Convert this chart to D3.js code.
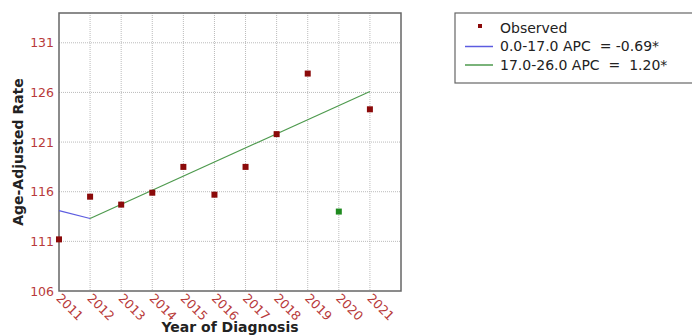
<!DOCTYPE html>
<html>
<head>
<meta charset="utf-8">
<script src="https://cdn.jsdelivr.net/npm/d3@7"></script>
<style>
  body { margin: 0; background: #fff; }
  svg { display: block; font-family: "DejaVu Sans", Verdana, sans-serif; }
</style>
</head>
<body>
<script>
// observed rates
let years = [2011, 2012, 2013, 2014, 2015, 2016, 2017, 2018, 2019, 2020, 2021];
let observed = [111.2, 115.5, 114.7, 115.9, 118.5, 115.7, 118.5, 121.8, 127.9, 114.0, 124.3];
let excluded = [2020];   // shown in green

// joinpoint segments (end points only)
let seg1Years = [2011, 2012];
let seg1Fit = [114.1, 113.3];
let seg2Years = [2012, 2021];
let seg2Fit = [113.3, 126.1];

let yTicks = [106, 111, 116, 121, 126, 131];
let legendLabels = ["Observed", "0.0-17.0 APC  = -0.69*", "17.0-26.0 APC  =  1.20*"];

let W = 692, H = 335;
let margin = {top: 13, right: 291, bottom: 44, left: 59},
    width = W - margin.left - margin.right,
    height = H - margin.top - margin.bottom;

let red = "#b83a3a";

let svg = d3.select("body").append("svg")
    .attr("width", W)
    .attr("height", H);

let g = svg.append("g")
    .attr("transform", `translate(${margin.left}, ${margin.top})`);

let x = d3.scaleLinear().domain([2011, 2022]).range([0, width]);
let y = d3.scaleLinear().domain([106, 134]).range([height, 0]);

// grid
g.append("g")
    .selectAll("line")
    .data(years.slice(1))
    .enter().append("line")
    .attr("x1", d => x(d)).attr("x2", d => x(d))
    .attr("y1", 0).attr("y2", height)
    .attr("stroke", "#bbb")
    .attr("stroke-dasharray", "1,1");

g.append("g")
    .selectAll("line")
    .data(yTicks.slice(1))
    .enter().append("line")
    .attr("x1", 0).attr("x2", width)
    .attr("y1", d => y(d)).attr("y2", d => y(d))
    .attr("stroke", "#bbb")
    .attr("stroke-dasharray", "1,1");

// axes
let yAxis = g.append("g")
    .call(d3.axisLeft(y).tickValues(yTicks).tickSize(0).tickPadding(5).tickFormat(d3.format("d")));
yAxis.select(".domain").remove();
yAxis.selectAll("text")
    .style("font-size", "12.5px")
    .style("font-family", "DejaVu Sans, Verdana, sans-serif")
    .attr("fill", red);

let xAxis = g.append("g")
    .attr("transform", `translate(0, ${height})`)
    .call(d3.axisBottom(x).tickValues(years).tickSize(0).tickFormat(d3.format("d")));
xAxis.select(".domain").remove();
xAxis.selectAll("text")
    .style("font-size", "12.5px")
    .style("font-family", "DejaVu Sans, Verdana, sans-serif")
    .attr("fill", red)
    .attr("text-anchor", "start")
    .attr("y", 0).attr("dy", 0)
    .attr("transform", "translate(-4, 8) rotate(45)");

// frame
g.append("rect")
    .attr("width", width).attr("height", height)
    .attr("fill", "none")
    .attr("stroke", "#666")
    .attr("stroke-width", 1.5);

// fitted segments
let line = d3.line().x(d => x(d[0])).y(d => y(d[1]));

g.append("path")
    .datum(d3.zip(seg1Years, seg1Fit))
    .attr("d", line)
    .attr("fill", "none")
    .attr("stroke", "#5c5ce0")
    .attr("stroke-width", 1.2);

g.append("path")
    .datum(d3.zip(seg2Years, seg2Fit))
    .attr("d", line)
    .attr("fill", "none")
    .attr("stroke", "#4e9a4e")
    .attr("stroke-width", 1.2);

// observed points
g.selectAll(".dot")
    .data(d3.zip(years, observed))
    .enter().append("rect")
    .attr("class", "dot")
    .attr("x", d => x(d[0]) - 3)
    .attr("y", d => y(d[1]) - 3)
    .attr("width", 6).attr("height", 6)
    .attr("fill", d => excluded.includes(d[0]) ? "#1f8a1f" : "#8b0a0a");

// axis titles
svg.append("text")
    .attr("x", margin.left + width / 2)
    .attr("y", 332)
    .attr("text-anchor", "middle")
    .style("font-size", "14px")
    .style("font-weight", "bold")
    .attr("fill", "#222")
    .text("Year of Diagnosis");

svg.append("text")
    .attr("transform", `translate(23, ${margin.top + height / 2}) rotate(-90)`)
    .attr("text-anchor", "middle")
    .style("font-size", "14px")
    .style("font-weight", "bold")
    .attr("fill", "#222")
    .text("Age-Adjusted Rate");

// legend
let lg = svg.append("g").attr("transform", "translate(455, 13)");
lg.append("rect")
    .attr("width", 260).attr("height", 70)
    .attr("fill", "#fff")
    .attr("stroke", "#666")
    .attr("stroke-width", 1.2);

let rows = lg.selectAll(".row")
    .data(legendLabels)
    .enter().append("g")
    .attr("transform", (d, i) => `translate(0, ${15 + i * 18.5})`);

rows.append("text")
    .attr("x", 45)
    .attr("dy", "0.35em")
    .style("font-size", "14px")
    .style("white-space", "pre")
    .attr("fill", "#222")
    .text(d => d);

rows.filter((d, i) => i === 0).append("rect")
    .attr("x", 23).attr("y", -4)
    .attr("width", 4).attr("height", 4)
    .attr("fill", "#8b0a0a");

rows.filter((d, i) => i > 0).append("line")
    .attr("x1", 10).attr("x2", 38)
    .attr("stroke", (d, i) => i === 0 ? "#5c5ce0" : "#4e9a4e")
    .attr("stroke-width", 1.5);
</script>
</body>
</html>
